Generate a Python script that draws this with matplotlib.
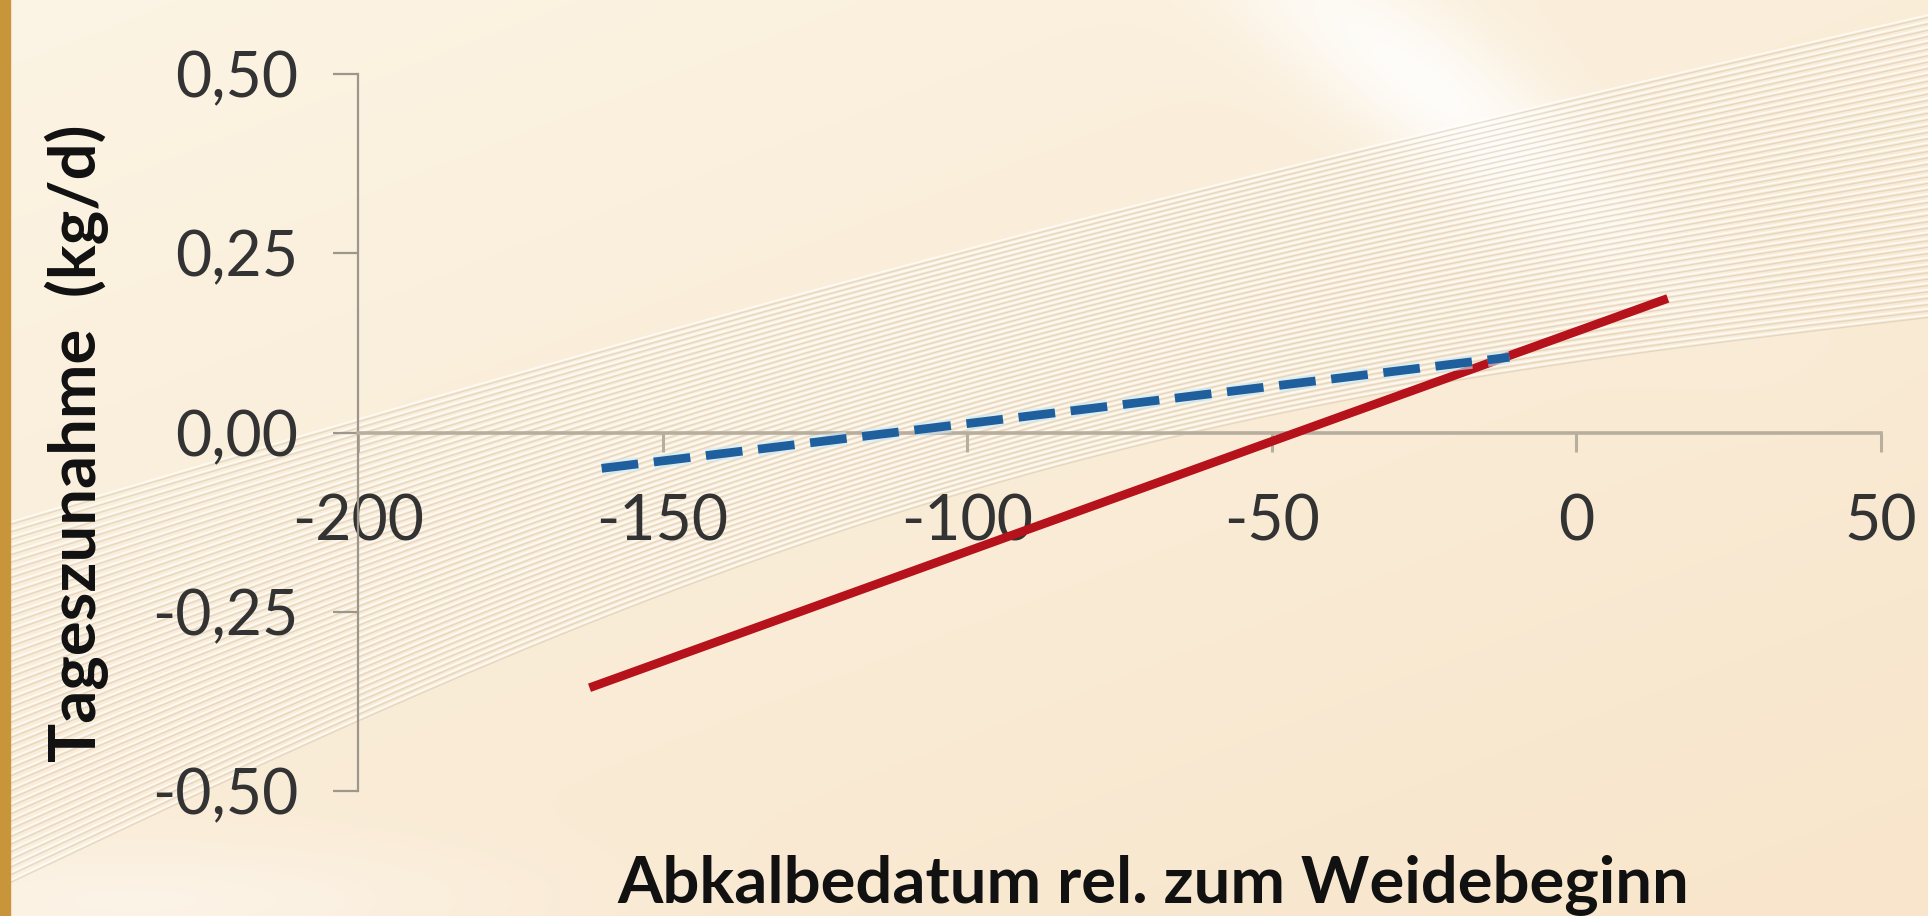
import numpy as np
import matplotlib.pyplot as plt
from matplotlib import patheffects as pe

# Tageszunahme gegen Abkalbedatum, zwei Regressionsgeraden
abkalb_blau = [-160, -11]
zunahme_blau = [-0.05, 0.105]
abkalb_rot = [-162, 15]
zunahme_rot = [-0.356, 0.187]

x_ticks = [-200, -150, -100, -50, 0, 50]
x_ticklabels = ['-200', '-150', '-100', '-50', '0', '50']
y_ticks = [-0.5, -0.25, 0.0, 0.25, 0.5]
y_ticklabels = ['-0,50', '-0,25', '0,00', '0,25', '0,50']

plt.rcParams['font.family'] = ['Lato', 'DejaVu Sans']

W, H = 1928, 916
fig = plt.figure(figsize=(W / 100, H / 100), dpi=100)

# --- Hintergrund: cremefarbener Verlauf mit hellen Wellenlinien ---
bg = fig.add_axes([0, 0, 1, 1], zorder=-10)
bg.set_axis_off()
bg.set_xlim(0, W)
bg.set_ylim(H, 0)

yy, xx = np.mgrid[0:H:4, 0:W:4].astype(float)
t = np.clip(0.45 * xx / W + 0.55 * yy / H, 0, 1)
top = np.array([252, 244, 228]) / 255
low = np.array([248, 229, 203]) / 255
img = top[None, None, :] * (1 - t[..., None]) + low[None, None, :] * t[..., None]
# heller Schimmer oben rechts
u = (xx - 1420) * 0.8 + (yy - 80) * 0.6
v = -(xx - 1420) * 0.6 + (yy - 80) * 0.8
glow = np.exp(-(u / 260) ** 2 - (v / 70) ** 2)
img = img + (1 - img) * 0.85 * glow[..., None]
# heller Bereich unten links
glow2 = np.exp(-((xx - 150) / 350) ** 2 - ((yy - 900) / 60) ** 2)
img = img + (1 - img) * 0.4 * glow2[..., None]
bg.imshow(np.clip(img, 0, 1), extent=[0, W, H, 0], aspect='auto', interpolation='bilinear')

s = np.linspace(0, 1, 200)
for i in range(48):
    f = i / 47
    left = 525 + f * 360
    right = 15 + f * 300
    bulge = 20 + f * 90
    yl = left + (right - left) * s - bulge * np.sin(np.pi * s)
    bg.plot(s * W, yl + 2.5, color='#cdbda2', lw=1.0, alpha=0.45)
    bg.plot(s * W, yl, color='white', lw=1.2, alpha=0.75)

# goldener Rand links
bg.add_patch(plt.Rectangle((0, 0), 10, H, color='#C9953A', zorder=3))

# --- Diagramm ---
ax = fig.add_axes([358 / W, 1 - 791 / H, 1523 / W, 717 / H])
ax.patch.set_alpha(0)
ax.set_xlim(-200, 50)
ax.set_ylim(-0.5, 0.5)

ax.spines['top'].set_visible(False)
ax.spines['right'].set_visible(False)
ax.spines['bottom'].set_position(('data', 0))
ax.spines['bottom'].set_color('#B8AE9E')
ax.spines['bottom'].set_linewidth(2.6)
ax.spines['left'].set_color('#9C968C')
ax.spines['left'].set_linewidth(1.6)

ax.set_xticks(x_ticks)
ax.set_xticklabels(x_ticklabels)
ax.set_yticks(y_ticks)
ax.set_yticklabels(y_ticklabels)
ax.tick_params(axis='x', direction='out', length=14, width=2.2, color='#B8AE9E',
               pad=30, labelsize=45, labelcolor='#333333')
ax.tick_params(axis='y', direction='out', length=18, width=1.6, color='#9C968C',
               pad=25, labelsize=45, labelcolor='#333333')

ax.plot(abkalb_rot, zunahme_rot, color='#B5121B', lw=6.3, solid_capstyle='butt', zorder=3)
ax.plot(abkalb_blau, zunahme_blau, color='#1F5F9E', lw=6.3, ls=(0, (4.2, 1.8)),
        dash_capstyle='butt', zorder=4,
        path_effects=[pe.Stroke(linewidth=10, foreground='#CDEBF7', alpha=0.6), pe.Normal()])

fig.text(77 / W, 1 - 443 / H, 'Tageszunahme  (kg/d)', rotation=90, ha='center', va='center',
         fontsize=47, fontweight='bold', color='#111111')
fig.text(1153 / W, 1 - 903 / H, 'Abkalbedatum rel. zum Weidebeginn', ha='center', va='baseline',
         fontsize=47, fontweight='bold', color='#111111')

fig.savefig('out.png', dpi=100)
